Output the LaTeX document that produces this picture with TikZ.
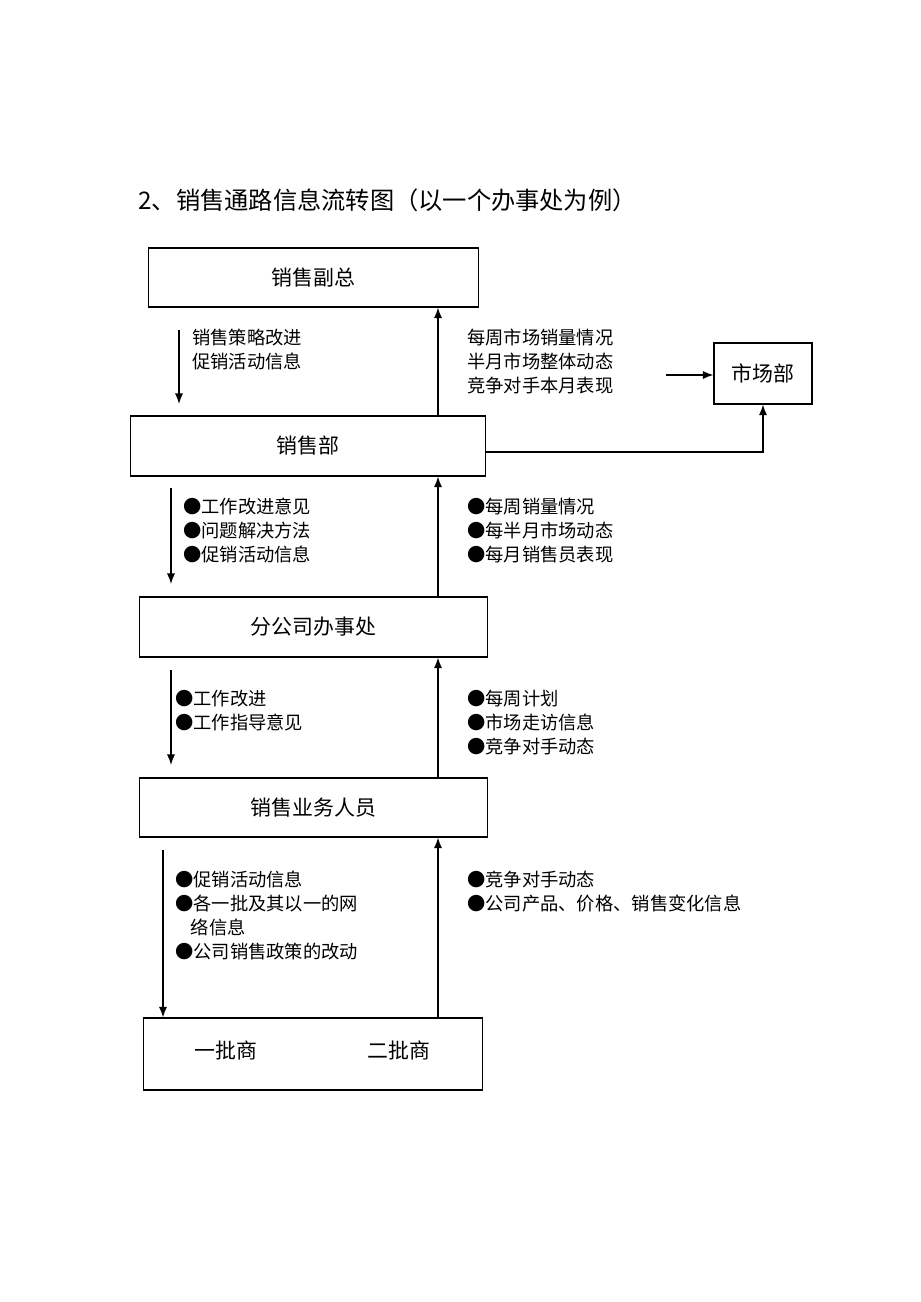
\documentclass[tikz,border=0pt]{standalone}
\usepackage{fontspec}
\setmainfont{Noto Sans CJK SC}
\usepackage{tikz}
\usetikzlibrary{
		arrows.meta,
		calc,
		positioning
	}
\tikzset{%
		every text node part/.style = {
			align = left
		},
		box/.style = {
			draw,
			rectangle,
			inner sep = 0pt,
			line width = 0.6pt,
			font = \fontsize{11.9}{14}\selectfont
		},
		flow/.style = {
			-{Latex[length=6pt, width=4.6pt]},
			line width = 0.8pt
		},
		note/.style = {
			anchor = north west,
			inner sep = 0pt,
			font = \fontsize{10.4}{13.6}\selectfont
		}
	}

\begin{document}
\begin{tikzpicture}[x=0.02cm, y=-0.02cm]
		\fill[white] (0, 0) rectangle (920, 1302);
		\useasboundingbox (0, 0) rectangle (920, 1302);  % page size in px

		\node[anchor=west, inner sep=0pt, font=\fontsize{13.8}{16}\selectfont] (title) at (138, 200)
			{2、销售通路信息流转图（以一个办事处为例）};

		\node[box, minimum width=6.62cm, minimum height=1.18cm] (vp) at (313.5, 277.5) {销售副总};
		\node[box, minimum width=7.12cm, minimum height=1.2cm] (dept) at (308, 446) {销售部};
		\node[box, minimum width=1.96cm, minimum height=1.22cm] (mkt) at (763, 373.5) {市场部};
		\node[box, minimum width=6.98cm, minimum height=1.2cm] (branch) at (313.5, 627) {分公司办事处};
		\node[box, minimum width=6.98cm, minimum height=1.18cm] (staff) at (313.5, 807.5) {销售业务人员};
		\node[box, minimum width=6.8cm, minimum height=1.44cm] (dealer) at (313, 1054) {};
		\node[font=\fontsize{11.9}{14}\selectfont, inner sep=0pt] (first) at (226, 1050) {一批商};
		\node[font=\fontsize{11.9}{14}\selectfont, inner sep=0pt] (second) at (399, 1050) {二批商};

		% upward reports
		\coordinate (upx) at (438, 0);
		\draw[flow] (dept.north -| upx) -- (vp.south -| upx);
		\draw[flow] (branch.north -| upx) -- (dept.south -| upx);
		\draw[flow] (staff.north -| upx) -- (branch.south -| upx);
		\draw[flow] (dealer.north -| upx) -- (staff.south -| upx);

		% downward instructions
		\coordinate (d1s) at (179, 330);
		\coordinate (d1e) at (179, 404);
		\coordinate (d2s) at (171, 488);
		\coordinate (d2e) at (171, 584);
		\coordinate (d3s) at (171, 670);
		\coordinate (d3e) at (171, 765);
		\coordinate (d4s) at (163, 850);
		\draw[flow] (d1s) -- (d1e);
		\draw[flow] (d2s) -- (d2e);
		\draw[flow] (d3s) -- (d3e);
		\draw[flow] (d4s) -- (dealer.north -| d4s);

		% to marketing
		\coordinate (m1) at (666, 375);
		\coordinate (m2) at (0, 452);
		\draw[flow] (m1) -- (mkt.west |- m1);
		\draw[flow] (dept.east |- m2) -| (mkt.south);

		\node[note] (n1) at (192, 329) {销售策略改进\\促销活动信息};
		\node[note] (n2) at (467, 329) {每周市场销量情况\\半月市场整体动态\\竞争对手本月表现};
		\node[note] (n3) at (183, 498) {●工作改进意见\\●问题解决方法\\●促销活动信息};
		\node[note] (n4) at (467, 498) {●每周销量情况\\●每半月市场动态\\●每月销售员表现};
		\node[note] (n5) at (175, 690) {●工作改进\\●工作指导意见};
		\node[note] (n6) at (467, 690) {●每周计划\\●市场走访信息\\●竞争对手动态};
		\node[note] (n7) at (175, 871) {●促销活动信息\\●各一批及其以一的网\\\hspace*{0.85em}络信息\\●公司销售政策的改动};
		\node[note] (n8) at (467, 871) {●竞争对手动态\\●公司产品、价格、销售变化信息};
	\end{tikzpicture}
\end{document}
